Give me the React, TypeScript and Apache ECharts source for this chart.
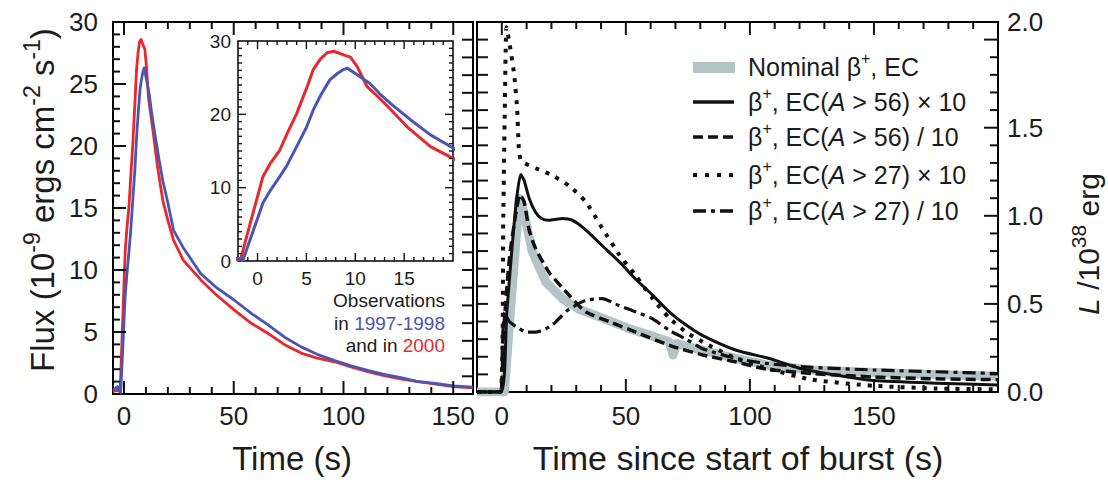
import React, { useEffect, useRef } from 'react';
import * as echarts from 'echarts';

// ---------- data ----------
// Observed flux (1e-9 erg cm^-2 s^-1) vs time (s)
const redObs2000: [number, number][] = [
  [-5, 0.2], [-3, 0.3], [-2, 0.2], [-1.7, 0.4], [-1, 3.9], [0, 8.8], [0.55, 11.5], [1.3, 13.3], [2.27, 15.1],
  [3, 17.3], [4, 20.1], [5, 23.5], [5.7, 26.1], [6.4, 27.5], [7.1, 28.4], [7.8, 28.6], [8.8, 28.1], [9.5, 27.8],
  [10.2, 26.5], [11.2, 23.8], [12, 22.8], [13.3, 21.1], [15.3, 18.3], [17.7, 15.6], [20, 14.0], [22.6, 12.4],
  [27, 10.8], [35, 9.2], [42, 8.0], [50, 6.8], [58, 5.7], [65.5, 4.9], [73, 4.0], [80.7, 3.3], [88, 2.9],
  [96, 2.6], [103, 2.2], [111, 1.8], [118, 1.5], [126.6, 1.2], [134, 1.0], [142, 0.8], [150, 0.6], [159, 0.5],
];
const blueObs1997: [number, number][] = [
  [-5, 0.3], [-3, 0.6], [-2, 0.3], [-1.5, 0.1], [-1, 2.0], [0, 5.8], [0.55, 7.9], [1.3, 9.6], [2.27, 11.5],
  [3, 13.0], [4, 15.6], [5, 18.2], [5.7, 20.6], [6.5, 22.7], [7.4, 24.7], [8.2, 25.6], [8.8, 26.1], [9.2, 26.3],
  [10.2, 25.4], [11.5, 24.2], [12.5, 22.8], [13.6, 21.5], [15.7, 19.2], [17.7, 17.2], [20, 15.4], [22.6, 13.2],
  [27, 11.8], [35, 9.7], [42, 8.6], [50, 7.6], [58, 6.5], [65.5, 5.6], [73, 4.6], [80.7, 3.8], [88, 3.2],
  [96, 2.7], [103, 2.3], [111, 1.9], [118, 1.6], [126.6, 1.3], [134, 1.0], [142, 0.85], [150, 0.65], [159, 0.55],
];

// Model luminosity (1e38 erg/s) vs time since start of burst (s)
const nominal: [number, number][] = [
  [-10, 0], [1, 0], [7, 1.1], [8.9, 1.02], [12.2, 0.8], [17.7, 0.625], [24.4, 0.53], [31.1, 0.47], [40.5, 0.42],
  [51.3, 0.36], [62.1, 0.31], [67.5, 0.285], [69, 0.21], [70.5, 0.275], [78.3, 0.246], [94.5, 0.19], [107.9, 0.15],
  [125, 0.125], [150, 0.11], [175, 0.1], [200, 0.09],
];
const a56x10: [number, number][] = [
  [-10, 0], [-0.3, 0], [2, 0.45], [4, 0.8], [6, 1.1], [7.6, 1.235], [9, 1.2], [11, 1.1], [13.6, 1.02], [16, 0.985],
  [19, 0.975], [22, 0.98], [24.4, 0.985], [28.4, 0.975], [33.8, 0.92], [40.5, 0.83], [47.3, 0.74], [54, 0.64],
  [60.8, 0.55], [67.5, 0.455], [74.3, 0.38], [81, 0.32], [94.5, 0.237], [107.9, 0.19], [120, 0.135], [135, 0.095],
  [150, 0.065], [175, 0.05], [200, 0.04],
];
const a56d10: [number, number][] = [
  [-10, 0], [-0.5, 0], [0.5, 0.3], [3, 0.75], [5.5, 1.0], [7.3, 1.12], [9, 1.08], [11, 0.92], [13.6, 0.815],
  [19, 0.68], [27.1, 0.55], [33.8, 0.455], [43.2, 0.4], [54, 0.34], [67.5, 0.265], [81, 0.21], [94.5, 0.17],
  [106.6, 0.13], [125, 0.105], [150, 0.085], [175, 0.075], [200, 0.07],
];
const a27x10: [number, number][] = [
  [-10, 0], [-0.5, 0], [0.6, 1.0], [1.2, 1.6], [1.9, 2.07], [3.2, 1.97], [5, 1.8], [6.2, 1.6], [6.8, 1.4],
  [7.5, 1.32], [9, 1.3], [13.6, 1.27], [20.3, 1.23], [27.1, 1.17], [33.8, 1.08], [40.5, 0.93], [47.3, 0.78],
  [54, 0.66], [60.8, 0.53], [67.5, 0.42], [74.3, 0.34], [81, 0.284], [94.5, 0.19], [107.9, 0.13], [125, 0.07],
  [150, 0.035], [175, 0.02], [200, 0.015],
];
const a27d10: [number, number][] = [
  [-10, 0], [-0.5, 0], [0.3, 0.3], [1.2, 0.45], [3, 0.4], [6.9, 0.36], [10, 0.34], [13.6, 0.34], [17, 0.355],
  [20.3, 0.38], [24, 0.43], [27.1, 0.47], [33.8, 0.52], [40.5, 0.53], [47.3, 0.49], [54, 0.455], [60.8, 0.415],
  [67.5, 0.35], [74.3, 0.3], [81, 0.246], [94.5, 0.19], [107.9, 0.16], [125, 0.14], [150, 0.125], [175, 0.115],
  [200, 0.105],
];

// axis ranges
const leftXRange = [-5, 159];
const insetXRange = [-2, 20];
const rightXRange = [-10, 200];
const fluxRange = [0, 30];
const lumRange = [0, 2.1];

// tick positions (major / minor step)
const leftXTicks = { from: 0, to: 150, minor: 10, major: 50 };
const leftYTicks = { from: 1, to: 29, minor: 1, major: 5 };
const insetXTicks = { from: -1, to: 19, minor: 1, major: 5 };
const insetYTicks = { from: 1, to: 29, minor: 1, major: 10 };
const rightXTicks = { from: 0, to: 190, minor: 10, major: 50 };
const lumTicks = { from: 0.1, to: 2.0, minor: 0.1, major: 0.5 };

const legendLabels = [
  'Nominal β{sup|+}, EC',
  'β{sup|+}, EC({it|A} > 56) × 10',
  'β{sup|+}, EC({it|A} > 56) / 10',
  'β{sup|+}, EC({it|A} > 27) × 10',
  'β{sup|+}, EC({it|A} > 27) / 10',
];

// ---------- helpers ----------
const FONT = '"Liberation Sans", Arial, Helvetica, sans-serif';
const TXT = '#1c1c1c';

function tickValues(t: { from: number; to: number; minor: number; major: number }): { v: number; major: boolean }[] {
  const out: { v: number; major: boolean }[] = [];
  const n = Math.round((t.to - t.from) / t.minor);
  for (let i = 0; i <= n; i++) {
    const v = +(t.from + i * t.minor).toFixed(6);
    const r = v / t.major;
    out.push({ v, major: Math.abs(r - Math.round(r)) < 1e-6 });
  }
  return out;
}

type AxOpt = {
  grid: number; pos: string; min: number; max: number; interval?: number;
  label?: boolean; fontSize?: number; margin?: number; z?: number; hideMax?: boolean; fmt?: (v: number) => string;
};
function ax(o: AxOpt) {
  return {
    type: 'value', gridIndex: o.grid, position: o.pos, min: o.min, max: o.max, z: o.z ?? 5,
    interval: o.interval,
    axisLine: { show: false, onZero: false },
    splitLine: { show: false },
    axisTick: { show: false },
    minorTick: { show: false },
    axisLabel: o.label
      ? { show: true, fontSize: o.fontSize, margin: o.margin, color: TXT, fontFamily: FONT, showMaxLabel: !o.hideMax, formatter: o.fmt ?? ((v: number) => String(v)) }
      : { show: false },
  };
}

export default function App() {
  const ref = useRef<HTMLDivElement>(null);
  useEffect(() => {
    if (!ref.current) return;
    const chart = echarts.init(ref.current, undefined, { renderer: 'svg' });

    // panel boxes (px)
    const LB = { left: 113, top: 22, width: 360, height: 372 };
    const IB = { left: 238, top: 41, width: 215, height: 220 };
    const RB = { left: 477, top: 22, width: 521, height: 370 };
    const L = { min: leftXRange[0], max: leftXRange[1] };
    const I = { min: insetXRange[0], max: insetXRange[1] };
    const R = { min: rightXRange[0], max: rightXRange[1] };
    const LY = { min: fluxRange[0], max: fluxRange[1] };
    const RY = { min: lumRange[0], max: lumRange[1] };

    // label grids starting at x = 0 so that labels counted from min land on round values
    const sub = (b: typeof LB, r: { min: number; max: number }, from: number, to: number) => {
      const k = b.width / (r.max - r.min);
      return { left: b.left + (from - r.min) * k, top: b.top, width: (to - from) * k, height: b.height, show: false };
    };

    const grid = [
      { ...LB, show: true, borderColor: '#000', borderWidth: 2, backgroundColor: 'transparent', z: 1 },
      { ...IB, show: true, borderColor: '#000', borderWidth: 1.5, backgroundColor: '#fff', z: 10 },
      { ...RB, show: true, borderColor: '#000', borderWidth: 2, backgroundColor: 'transparent', z: 1 },
      sub(LB, L, 0, 150),
      sub(IB, I, 0, 20),
      sub(RB, R, 0, 200),
    ];

    const xAxis = [
      ax({ grid: 0, pos: 'bottom', ...L }), // 0 left data
      ax({ grid: 1, pos: 'bottom', ...I, z: 12 }), // 1 inset data
      ax({ grid: 2, pos: 'bottom', ...R }), // 2 right data
      ax({ grid: 3, pos: 'bottom', min: 0, max: 150, interval: 50, label: true, fontSize: 26, margin: 9 }),
      ax({ grid: 4, pos: 'bottom', min: 0, max: 20, interval: 5, label: true, fontSize: 19, margin: 8, hideMax: true, z: 12 }),
      ax({ grid: 5, pos: 'bottom', min: 0, max: 200, interval: 50, label: true, fontSize: 26, margin: 11, hideMax: true }),
    ];
    const yAxis = [
      ax({ grid: 0, pos: 'left', ...LY, interval: 5, label: true, fontSize: 26, margin: 15 }), // 0
      ax({ grid: 0, pos: 'right', ...RY }), // 1 (L scale on the left panel's right side)
      ax({ grid: 1, pos: 'left', ...LY, interval: 10, label: true, fontSize: 19, margin: 7, z: 12 }), // 2
      ax({ grid: 2, pos: 'left', ...RY }), // 3
      ax({
        grid: 2, pos: 'right', ...RY, interval: 0.5, label: true, fontSize: 26, margin: 9,
        fmt: (v: number) => (v > 2.05 ? '2.0' : v >= 1.99 ? '' : v.toFixed(1)),
      }), // 4
      ax({ grid: 3, pos: 'left', ...LY }), // 5
      ax({ grid: 4, pos: 'left', ...LY }), // 6
      ax({ grid: 5, pos: 'left', ...RY }), // 7
    ];

    const obs = (name: string, data: [number, number][], color: string, xi: number, yi: number, z: number, w: number) => ({
      name, type: 'line', data, xAxisIndex: xi, yAxisIndex: yi, symbol: 'none', z, silent: true, clip: true,
      lineStyle: { color, width: w, join: 'round' },
    });
    const model = (name: string, data: [number, number][], color: string, width: number, type: any, z: number, smooth = 0.2) => ({
      name, type: 'line', data, xAxisIndex: 2, yAxisIndex: 4, symbol: 'none', z, silent: true, clip: true, smooth,
      lineStyle: { color, width, type, cap: 'butt', join: 'round' },
    });

    const RED = '#e8282c';
    const BLUE = '#4a55b4';
    const GRAY = '#b4c3c3';

    const legendY = [67, 102, 137, 175, 211];
    const legendGraphics: any[] = [
      { type: 'rect', shape: { x: 693, y: 62, width: 42, height: 11 }, style: { fill: GRAY }, z: 20 },
      { type: 'line', shape: { x1: 693, y1: legendY[1], x2: 734, y2: legendY[1] }, style: { stroke: '#111', lineWidth: 3.5 }, z: 20 },
      { type: 'line', shape: { x1: 693, y1: legendY[2], x2: 734, y2: legendY[2] }, style: { stroke: '#111', lineWidth: 3.5, lineDash: [10, 5] }, z: 20 },
      { type: 'line', shape: { x1: 693, y1: legendY[3], x2: 734, y2: legendY[3] }, style: { stroke: '#111', lineWidth: 4, lineDash: [4, 8] }, z: 20 },
      { type: 'line', shape: { x1: 693, y1: legendY[4], x2: 734, y2: legendY[4] }, style: { stroke: '#111', lineWidth: 3.5, lineDash: [13, 5, 4, 5] }, z: 20 },
      ...legendLabels.map((t, i) => ({
        type: 'text', x: 748, y: legendY[i], z: 20,
        style: {
          text: t, fontSize: 25, fontFamily: FONT, fill: TXT, align: 'left', verticalAlign: 'middle', lineHeight: 34,
          rich: {
            sup: { fontSize: 16, lineHeight: 16, verticalAlign: 'top', fontFamily: FONT, fill: TXT },
            it: { fontSize: 25, fontStyle: 'italic', fontFamily: FONT, fill: TXT },
          },
        },
      })),
    ];

    const textGraphics: any[] = [
      {
        type: 'text', x: 292, y: 458, z: 20,
        style: { text: 'Time (s)', fontSize: 33, fontFamily: FONT, fill: TXT, align: 'center', verticalAlign: 'middle' },
      },
      {
        type: 'text', x: 738, y: 458, z: 20,
        style: { text: 'Time since start of burst (s)', fontSize: 34, fontFamily: FONT, fill: TXT, align: 'center', verticalAlign: 'middle' },
      },
      {
        type: 'text', x: 42, y: 200, rotation: Math.PI / 2, z: 20,
        style: {
          text: 'Flux (10{sup|-9} ergs cm{sup|-2} s{sup|-1})', fontSize: 33, fontFamily: FONT, fill: TXT,
          align: 'center', verticalAlign: 'middle', lineHeight: 44,
          rich: { sup: { fontSize: 23, lineHeight: 24, verticalAlign: 'top', fontFamily: FONT, fill: TXT } },
        },
      },
      {
        type: 'text', x: 1088, y: 244, rotation: Math.PI / 2, z: 20,
        style: {
          text: '{it|L} /10{sup|38} erg', fontSize: 30, fontFamily: FONT, fill: TXT,
          align: 'center', verticalAlign: 'middle', lineHeight: 40,
          rich: {
            sup: { fontSize: 21, lineHeight: 22, verticalAlign: 'top', fontFamily: FONT, fill: TXT },
            it: { fontSize: 30, fontStyle: 'italic', fontFamily: FONT, fill: TXT },
          },
        },
      },
      {
        type: 'text', x: 445, y: 300, z: 20,
        style: { text: 'Observations', fontSize: 19, fontFamily: FONT, fill: TXT, align: 'right', verticalAlign: 'middle' },
      },
      {
        type: 'text', x: 445, y: 323, z: 20,
        style: {
          text: 'in {b|1997-1998}', fontSize: 19, fontFamily: FONT, fill: TXT, align: 'right', verticalAlign: 'middle',
          rich: { b: { fontSize: 19, fontFamily: FONT, fill: BLUE } },
        },
      },
      {
        type: 'text', x: 445, y: 345, z: 20,
        style: {
          text: 'and in {r|2000}', fontSize: 19, fontFamily: FONT, fill: TXT, align: 'right', verticalAlign: 'middle',
          rich: { r: { fontSize: 19, fontFamily: FONT, fill: RED } },
        },
      },
    ];

    const baseGraphics = [...textGraphics, ...legendGraphics];

    const option: any = {
      animation: false,
      backgroundColor: '#ffffff',
      grid,
      xAxis,
      yAxis,
      series: [
        obs('2000', redObs2000, RED, 0, 0, 3, 2.8),
        obs('1997-1998', blueObs1997, BLUE, 0, 0, 4, 2.8),
        obs('2000 inset', redObs2000, RED, 1, 2, 13, 3),
        obs('1997-1998 inset', blueObs1997, BLUE, 1, 2, 14, 3),
        model('Nominal β+, EC', nominal, GRAY, 9, 'solid', 3, 0),
        model('β+, EC(A > 27) / 10', a27d10, '#111', 3.2, [13, 5, 4, 5], 4),
        model('β+, EC(A > 27) × 10', a27x10, '#111', 4, [4, 7], 4),
        model('β+, EC(A > 56) / 10', a56d10, '#111', 3.5, [10, 5], 4),
        model('β+, EC(A > 56) × 10', a56x10, '#111', 3, 'solid', 5),
      ],
      graphic: baseGraphics,
    };
    chart.setOption(option);

    // tick marks: positions taken from the axes' own scales
    const tickLines: any[] = [];
    const addTicks = (
      ticks: { v: number; major: boolean }[], dim: 'x' | 'y', edge: number, dir: number,
      xi: number, yi: number, majorLen: number, minorLen: number, w: number, z: number,
    ) => {
      ticks.forEach((t) => {
        const val = dim === 'x' ? [t.v, edge] : [edge, t.v];
        const p = chart.convertToPixel({ xAxisIndex: xi, yAxisIndex: yi } as any, val) as any;
        if (!p || !isFinite(p[0]) || !isFinite(p[1])) return;
        const len = t.major ? majorLen : minorLen;
        const x2 = dim === 'y' ? p[0] + dir * len : p[0];
        const y2 = dim === 'x' ? p[1] + dir * len : p[1];
        tickLines.push({ type: 'line', z, silent: true, shape: { x1: p[0], y1: p[1], x2, y2 }, style: { stroke: '#111', lineWidth: w } });
      });
    };
    const lx = tickValues(leftXTicks);
    const ly = tickValues(leftYTicks);
    const ix = tickValues(insetXTicks);
    const iy = tickValues(insetYTicks);
    const rx = tickValues(rightXTicks);
    const lum = tickValues(lumTicks);
    // left panel
    addTicks(lx, 'x', LY.min, -1, 0, 0, 13, 7, 2, 15);
    addTicks(lx, 'x', LY.max, 1, 0, 0, 13, 7, 2, 15);
    addTicks(ly, 'y', L.min, 1, 0, 0, 13, 7, 2, 15);
    addTicks(lum, 'y', L.max, -1, 0, 1, 11, 11, 2, 15);
    // inset
    addTicks(ix, 'x', LY.min, -1, 1, 2, 8, 4, 1.4, 16);
    addTicks(ix, 'x', LY.max, 1, 1, 2, 8, 4, 1.4, 16);
    addTicks(iy, 'y', I.min, 1, 1, 2, 8, 4, 1.4, 16);
    addTicks(iy, 'y', I.max, -1, 1, 2, 8, 4, 1.4, 16);
    // right panel
    addTicks(rx, 'x', RY.min, -1, 2, 4, 13, 7, 2, 15);
    addTicks(rx, 'x', RY.max, 1, 2, 4, 13, 7, 2, 15);
    addTicks(lum, 'y', R.min, 1, 2, 3, 11, 11, 2, 15);
    addTicks(lum, 'y', R.max, -1, 2, 4, 14, 8, 2, 15);

    chart.setOption({ graphic: [...baseGraphics, ...tickLines] });

    return () => chart.dispose();
  }, []);
  return <div ref={ref} style={{ position: 'fixed', left: 0, top: 0, width: 1108, height: 482, background: '#fff' }} />;
}
